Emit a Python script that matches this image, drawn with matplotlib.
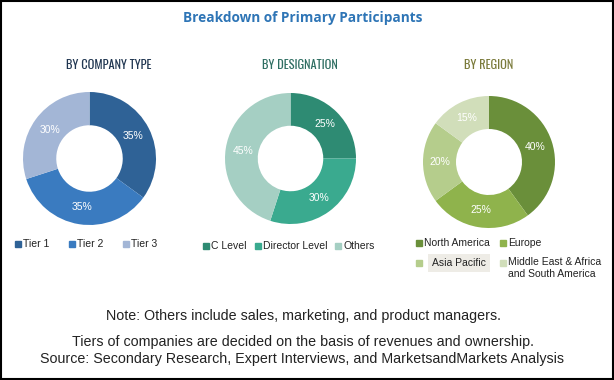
import numpy as np
import matplotlib.pyplot as plt
from matplotlib.patches import Rectangle
from matplotlib import font_manager

W, H = 614, 380

# data
company_labels = ['Tier 1', 'Tier 2', 'Tier 3']
company_values = [35, 35, 30]
company_colors = ['#2F6296', '#3A7BC0', '#A3B6D6']

desig_labels = ['C Level', 'Director Level', 'Others']
desig_values = [25, 30, 45]
desig_colors = ['#2E8B73', '#3AAA8F', '#A5CFC3']

region_labels = ['North America', 'Europe', 'Asia Pacific', 'Middle East & Africa\nand South America']
region_values = [40, 25, 20, 15]
region_colors = ['#6A8F3A', '#8FB34C', '#B5CD8C', '#D1DEBA']

installed = {f.name for f in font_manager.fontManager.ttflist}


def pick(*cands):
    for c in cands:
        if c in installed:
            return c
    return 'DejaVu Sans'


tall = pick('Oswald', 'Pathway Gothic One', 'Saira Extra Condensed', 'Antonio',
            'Roboto Condensed', 'Archivo Narrow')
head = pick('Open Sans', 'Carlito')
plain = pick('Liberation Sans', 'Arimo', 'DejaVu Sans')

fig = plt.figure(figsize=(W / 100, H / 100), dpi=100)


def px(x, y):
    return x / W, 1 - y / H


def donut(cx, cy, r, values, colors):
    ax = fig.add_axes([(cx - r) / W, 1 - (cy + r) / H, 2 * r / W, 2 * r / H])
    ax.pie(values, colors=colors, startangle=90, counterclock=False,
           radius=1, wedgeprops=dict(width=0.5, edgecolor='none'))
    start = 90
    for v in values:
        mid = np.deg2rad(start - v * 3.6 / 2)
        ax.text(0.74 * np.cos(mid), 0.74 * np.sin(mid), f'{v}%', color='white',
                ha='center', va='center', fontsize=7.5, family=plain)
        start -= v * 3.6
    ax.set_xlim(-1, 1)
    ax.set_ylim(-1, 1)
    ax.axis('off')


donut(89.5, 158.5, 66.5, company_values, company_colors)
donut(290.5, 158.5, 65.5, desig_values, desig_colors)
donut(489, 162, 66, region_values, region_colors)


def legend_item(x, y, label, color, bg=None, sq_y=None):
    sq = 6
    sy = y if sq_y is None else sq_y
    fig.patches.append(Rectangle(px(x - sq / 2, sy + sq / 2), sq / W, sq / H,
                                 transform=fig.transFigure, color=color))
    kw = {}
    if bg:
        kw['bbox'] = dict(boxstyle='square,pad=0.35', fc=bg, ec='none')
    fig.text(*px(x + 5 + (8 if bg else 0), y), label, fontsize=7.5, va='center',
             ha='left', color='#222222', family=plain, linespacing=1.25, **kw)


for x, lab, col in zip([18, 72, 126], company_labels, company_colors):
    legend_item(x, 244, lab, col)
for x, lab, col in zip([206, 258, 338], desig_labels, desig_colors):
    legend_item(x, 246, lab, col)
legend_item(419, 243, region_labels[0], region_colors[0])
legend_item(503, 243, region_labels[1], region_colors[1])
legend_item(419, 263, region_labels[2], region_colors[2], bg='#EEECE6')
legend_item(503, 268, region_labels[3], region_colors[3], sq_y=263)

fig.text(*px(303, 18), 'Breakdown of Primary Participants', ha='center', va='center',
         fontsize=9.8, fontweight='bold', color='#2E75B6', family=head)
fig.text(*px(109, 65), 'BY COMPANY TYPE', ha='center', va='center', fontsize=8.9,
         color='#1F3550', family=tall, fontweight='light')
fig.text(*px(299.5, 65), 'BY DESIGNATION', ha='center', va='center', fontsize=8.9,
         color='#2E6E62', family=tall, fontweight='light')
fig.text(*px(489, 65), 'BY REGION', ha='center', va='center', fontsize=8.9,
         color='#7A7A3A', family=tall, fontweight='light')

fig.text(*px(303, 316), 'Note: Others include sales, marketing, and product managers.',
         ha='center', va='center', fontsize=10.3, color='#222222', family=plain)
fig.text(*px(303, 342), 'Tiers of companies are decided on the basis of revenues and ownership.',
         ha='center', va='center', fontsize=10.3, color='#222222', family=plain)
fig.text(*px(302, 359), 'Source: Secondary Research, Expert Interviews, and MarketsandMarkets Analysis',
         ha='center', va='center', fontsize=10.3, color='#222222', family=plain)

fig.patches.append(Rectangle((0.001, 0.002), 0.997, 0.996, transform=fig.transFigure,
                             fill=False, ec='black', lw=1.5))

fig.savefig('out.png', dpi=100)
